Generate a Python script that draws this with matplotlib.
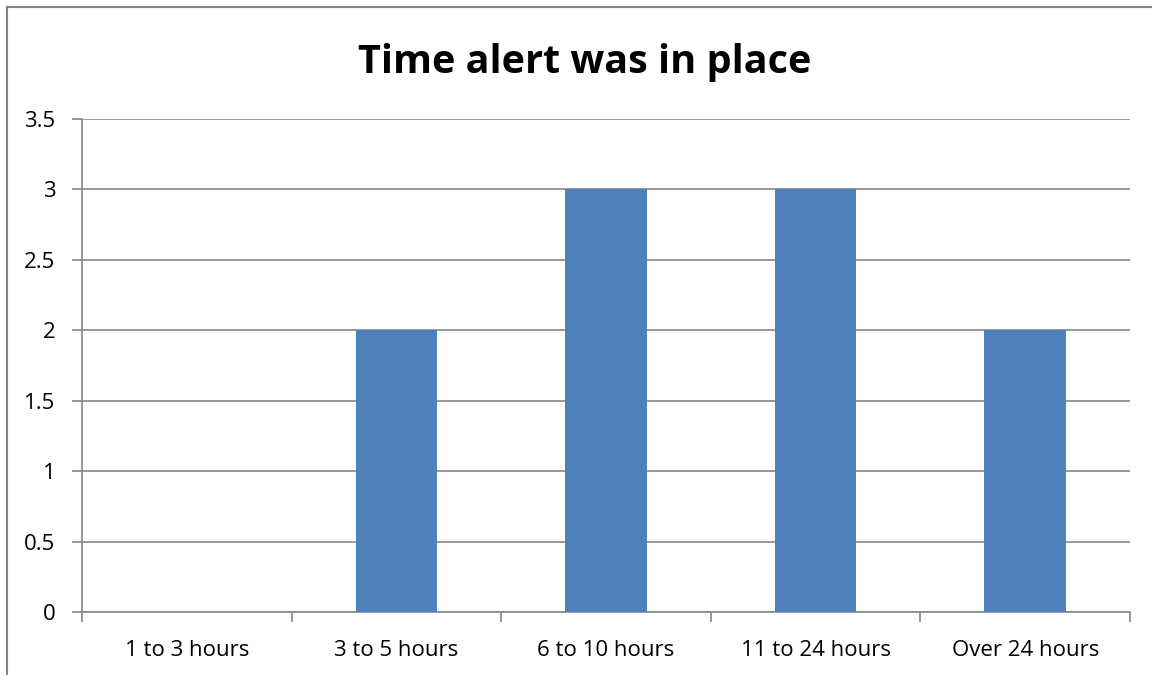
import numpy as np
import matplotlib
matplotlib.use('Agg')
import matplotlib.pyplot as plt
from matplotlib.lines import Line2D

categories = ['1 to 3 hours', '3 to 5 hours', '6 to 10 hours', '11 to 24 hours', 'Over 24 hours']
counts = [0, 2, 3, 3, 2]
title = 'Time alert was in place'

plt.rcParams['font.family'] = ['Open Sans', 'DejaVu Sans']

W, H = 1152, 675
fig = plt.figure(figsize=(W / 100, H / 100), dpi=100)
ax = fig.add_axes([82 / W, 1 - 612 / H, (1130 - 82) / W, (612 - 119) / H])

grid_col = '#868686'
x = np.arange(len(categories))
ax.bar(x, counts, width=0.39, color='#4F81BD', zorder=3)

ax.set_xlim(-0.5, len(categories) - 0.5)
ax.set_ylim(0, 3.5)
yt = np.arange(0, 3.51, 0.5)
ax.set_yticks(yt)
ax.set_yticklabels([f'{v:g}' for v in yt], fontsize=16)
ax.set_xticks(x)
ax.set_xticklabels(categories, fontsize=16)
ax.set_xticks(np.arange(-0.5, len(categories)), minor=True)
ax.tick_params(axis='x', which='major', length=0, pad=20)
ax.tick_params(axis='x', which='minor', length=7, color=grid_col, width=1.2)
ax.tick_params(axis='y', length=7, color=grid_col, width=1.2, pad=12)

ax.grid(axis='y', color=grid_col, linewidth=1.2, zorder=0)
for s in ['top', 'right']:
    ax.spines[s].set_visible(False)
for s in ['left', 'bottom']:
    ax.spines[s].set_color(grid_col)
    ax.spines[s].set_linewidth(1.2)

fig.text(585 / W, 1 - 63 / H, title, ha='center', va='center',
         fontsize=28.5, fontweight='bold')

# chart frame (left and top edges visible)
fig.add_artist(Line2D([7 / W, 7 / W], [0, 1 - 7 / H], color=grid_col, lw=1.5,
                      transform=fig.transFigure))
fig.add_artist(Line2D([7 / W, 1], [1 - 7 / H, 1 - 7 / H], color=grid_col, lw=1.5,
                      transform=fig.transFigure))

fig.savefig('out.png', dpi=100)
